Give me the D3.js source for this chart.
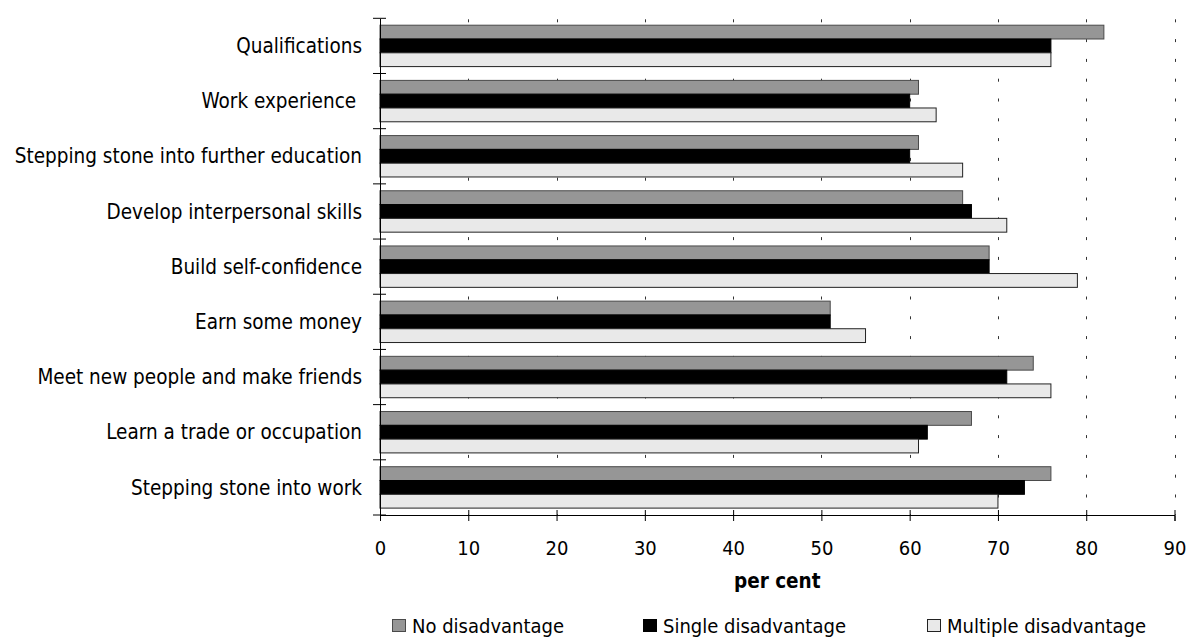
<!DOCTYPE html>
<html>
<head>
<meta charset="utf-8">
<script src="https://cdn.jsdelivr.net/npm/d3@7"></script>
<style>
  html, body { margin: 0; padding: 0; background: #fff; }
  svg { display: block; }
  text { font-family: "DejaVu Sans Condensed", "DejaVu Sans", sans-serif; fill: #000; white-space: pre; }
</style>
</head>
<body>
<svg id="chart" width="1188" height="639"></svg>
<script>
// Reasons for taking part, by level of disadvantage (per cent)
const categories = [
  "Qualifications",
  "Work experience ",
  "Stepping stone into further education",
  "Develop interpersonal skills",
  "Build self-confidence",
  "Earn some money",
  "Meet new people and make friends",
  "Learn a trade or occupation",
  "Stepping stone into work"
];
const seriesNames = ["No disadvantage", "Single disadvantage", "Multiple disadvantage"];
const noDisadvantage       = [82, 61, 61, 66, 69, 51, 74, 67, 76];
const singleDisadvantage   = [76, 60, 60, 67, 69, 51, 71, 62, 73];
const multipleDisadvantage = [76, 63, 66, 71, 79, 55, 76, 61, 70];
const xTicks = [0, 10, 20, 30, 40, 50, 60, 70, 80, 90];
const xTitle = "per cent";

const seriesValues = [noDisadvantage, singleDisadvantage, multipleDisadvantage];
const fills = ["#969696", "#000000", "#e9e9e9"];
const strokes = ["#4a4a4a", "#000000", "#222222"];

const svg = d3.select("#chart");
const plotLeft = 380, plotRight = 1174.5, plotTop = 18.3, plotBottom = 515;

const x = d3.scaleLinear().domain([0, 90]).range([plotLeft, plotRight]);
const y = d3.scaleBand().domain(categories).range([plotTop, plotBottom])
  .paddingInner(0.25).paddingOuter(0.125);
const ySub = d3.scaleBand().domain(d3.range(seriesNames.length)).range([0, y.bandwidth()]);

// dashed vertical gridlines
svg.append("g").selectAll("line")
  .data(xTicks.filter(t => t > 0))
  .join("line")
  .attr("x1", d => Math.round(x(d)) + 0.5).attr("x2", d => Math.round(x(d)) + 0.5)
  .attr("y1", plotTop + 1).attr("y2", plotBottom)
  .attr("stroke", "#333").attr("stroke-width", 1)
  .attr("stroke-dasharray", "3,16.8");

// bars
const rows = categories.map((c, i) => ({ c, vals: seriesValues.map(s => s[i]) }));
const groups = svg.append("g").selectAll("g")
  .data(rows).join("g")
  .attr("transform", d => `translate(0,${y(d.c)})`);
groups.selectAll("rect")
  .data(d => d.vals.map((v, k) => ({ v, k })))
  .join("rect")
  .attr("x", x(0))
  .attr("y", d => ySub(d.k))
  .attr("width", d => x(d.v) - x(0))
  .attr("height", ySub.bandwidth())
  .attr("fill", d => fills[d.k])
  .attr("stroke", d => strokes[d.k])
  .attr("stroke-width", 1);

// category axis
const yAxis = d3.axisLeft(y).tickSize(0).tickPadding(18);
const gy = svg.append("g").attr("transform", `translate(${plotLeft},0)`).call(yAxis);
gy.select(".domain").attr("stroke", "#000");
gy.selectAll("text").attr("font-size", 20.5).attr("dy", "0.35em");
// ticks on the category boundaries, crossing the axis line
const boundaries = categories.map(c => y(c) - y.step() * y.paddingInner() / 2).concat([plotBottom]);
svg.append("g").selectAll("line")
  .data(boundaries).join("line")
  .attr("x1", plotLeft - 7).attr("x2", plotLeft + 6)
  .attr("y1", d => d).attr("y2", d => d)
  .attr("stroke", "#000");

// value axis
const xAxis = d3.axisBottom(x).tickValues(xTicks).tickSize(6).tickPadding(0).tickFormat(d3.format("d"));
const gx = svg.append("g").attr("transform", `translate(0,${plotBottom})`).call(xAxis);
gx.select(".domain").attr("stroke", "#000");
gx.selectAll(".tick line").attr("y1", -5).attr("stroke", "#000");
gx.selectAll("text").attr("font-size", 20).attr("y", 40).attr("dy", 0);

svg.append("text")
  .attr("x", (plotLeft + plotRight) / 2).attr("y", 588)
  .attr("text-anchor", "middle")
  .attr("font-size", 20.5).attr("font-weight", "bold")
  .text(xTitle);

// legend
const legendX = [392, 643, 927];
const lg = svg.append("g").selectAll("g")
  .data(seriesNames).join("g")
  .attr("transform", (d, i) => `translate(${legendX[i]},619)`);
lg.append("rect")
  .attr("x", 0.5).attr("y", 0.5).attr("width", 13).attr("height", 12)
  .attr("fill", (d, i) => fills[i]).attr("stroke", (d, i) => strokes[i]);
lg.append("text")
  .attr("x", 20).attr("y", 14)
  .attr("font-size", 20)
  .text(d => d);
</script>
</body>
</html>
